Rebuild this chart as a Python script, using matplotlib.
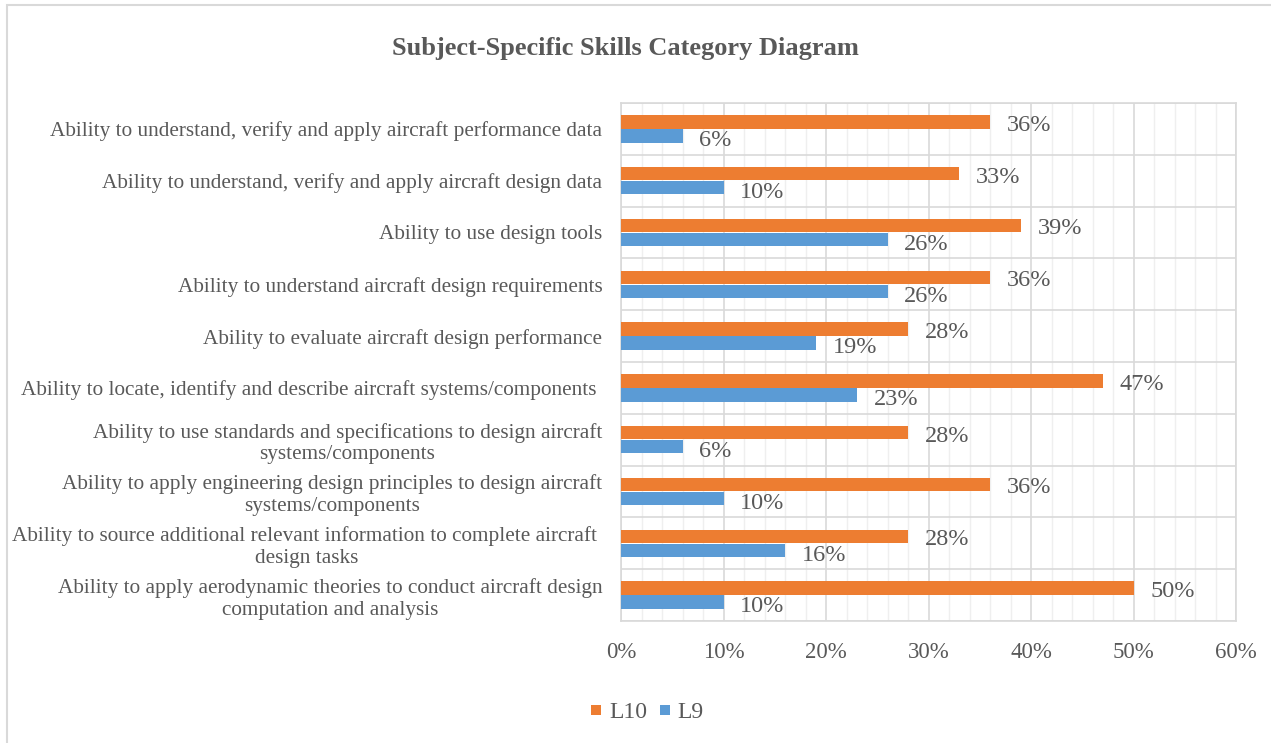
import numpy as np
import matplotlib
matplotlib.use("Agg")
import matplotlib.pyplot as plt
from matplotlib.ticker import MultipleLocator, PercentFormatter
from matplotlib.patches import Rectangle
from matplotlib.lines import Line2D

# data (top to bottom as shown in the chart)
skills = [
    "Ability to understand, verify and apply aircraft performance data",
    "Ability to understand, verify and apply aircraft design data",
    "Ability to use design tools",
    "Ability to understand aircraft design requirements",
    "Ability to evaluate aircraft design performance",
    "Ability to locate, identify and describe aircraft systems/components ",
    "Ability to use standards and specifications to design aircraft\nsystems/components",
    "Ability to apply engineering design principles to design aircraft\nsystems/components",
    "Ability to source additional relevant information to complete aircraft \ndesign tasks",
    "Ability to apply aerodynamic theories to conduct aircraft design\ncomputation and analysis",
]
l10 = [0.36, 0.33, 0.39, 0.36, 0.28, 0.47, 0.28, 0.36, 0.28, 0.50]
l9 = [0.06, 0.10, 0.26, 0.26, 0.19, 0.23, 0.06, 0.10, 0.16, 0.10]
series_names = ["L10", "L9"]

orange = "#ED7D31"
blue = "#5B9BD5"
text_col = "#595959"
grid_major = "#D9D9D9"
grid_minor = "#EFEFEF"

plt.rcParams["font.family"] = ["Liberation Serif", "DejaVu Serif"]

W, H = 1271, 743
fig = plt.figure(figsize=(W / 100, H / 100), dpi=100)
ax = fig.add_axes([621 / W, 1 - 621 / H, (1236 - 621) / W, (621 - 103) / H])

y = np.arange(len(skills))
bh = 0.257
off = 0.135
ax.barh(y - off, l10, height=bh, color=orange, zorder=3)
ax.barh(y + off, l9, height=bh, color=blue, zorder=3)

for yi, v in zip(y, l10):
    ax.annotate(f"{v:.0%}", (v, yi - off), xytext=(12, -2.5), textcoords="offset points",
                va="center", ha="left", fontsize=17.5, color=text_col)
for yi, v in zip(y, l9):
    ax.annotate(f"{v:.0%}", (v, yi + off), xytext=(12, -3.5), textcoords="offset points",
                va="center", ha="left", fontsize=17.5, color=text_col)

ax.set_xlim(0, 0.6)
ax.set_ylim(len(skills) - 0.5, -0.5)
ax.xaxis.set_major_locator(MultipleLocator(0.1))
ax.xaxis.set_minor_locator(MultipleLocator(0.02))
ax.xaxis.set_major_formatter(PercentFormatter(1.0, decimals=0))
ax.set_yticks(y)
ax.set_yticklabels(skills, fontsize=15.3, color=text_col, multialignment="center",
                   linespacing=1.2)
ax.set_yticks(np.arange(-0.5, len(skills), 1), minor=True)

ax.tick_params(axis="x", which="both", length=0, labelsize=16.5, labelcolor=text_col, pad=15)
ax.tick_params(axis="y", which="both", length=0, pad=13.5)

ax.grid(axis="x", which="minor", color=grid_minor, lw=1, zorder=0)
ax.grid(axis="x", which="major", color=grid_major, lw=1.2, zorder=1)
ax.grid(axis="y", which="minor", color=grid_major, lw=1.2, zorder=1)
ax.set_axisbelow(True)
for s in ax.spines.values():
    s.set_color(grid_major)
    s.set_linewidth(1.2)

fig.text(625 / W, 1 - 49 / H, "Subject-Specific Skills Category Diagram",
         ha="center", va="center", fontsize=19, fontweight="bold", color=text_col)

# small square legend keys like the Excel original
handles = [Line2D([], [], ls="", marker="s", markersize=6.5, color=c, markeredgewidth=0)
           for c in (orange, blue)]
fig.legend(handles, series_names, loc="center", bbox_to_anchor=(647 / W, 1 - 712 / H),
           ncol=2, frameon=False, fontsize=17, handlelength=0.5, handletextpad=0.3,
           columnspacing=0.5, labelcolor=text_col)

fig.add_artist(Rectangle((7 / W, -0.5), 1.5, 0.5 + (1 - 5 / H), transform=fig.transFigure,
                         fill=False, edgecolor=grid_major, lw=1.5))

fig.savefig("out.png", dpi=100)
